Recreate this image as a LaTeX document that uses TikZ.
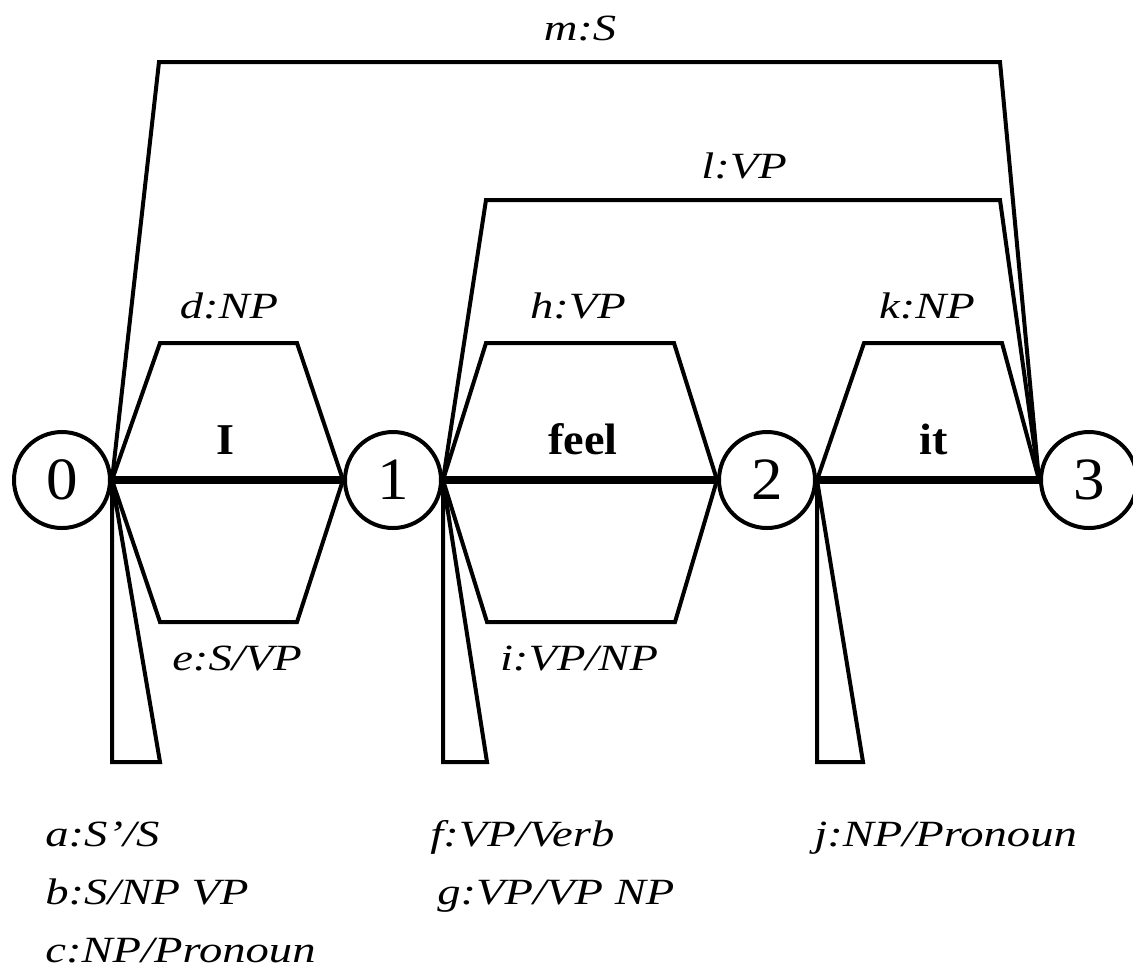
\documentclass[tikz,border=0pt]{standalone}
\usepackage{fontspec}
\setmainfont{Liberation Serif}[FakeStretch=1.26]
\newfontfamily\wordfont{Liberation Serif}[FakeStretch=1.05]
\begin{document}
\begin{tikzpicture}[x=0.5pt,y=-0.5pt,
  state/.style={circle,draw,line width=2pt,minimum size=48pt,inner sep=0pt,
    font=\wordfont\fontsize{30pt}{32pt}\selectfont},
  arc/.style={line width=2pt,line join=miter},
  wordedge/.style={line width=4pt},
  lab/.style={anchor=base,inner sep=0pt,font=\fontsize{18.5pt}{20pt}\selectfont\itshape},
  leftlab/.style={lab,anchor=base west},
  wordlab/.style={anchor=base,inner sep=0pt,font=\wordfont\bfseries\fontsize{22pt}{24pt}\selectfont}]
\useasboundingbox (0,0) rectangle (1133,971);

% chart vertices
\node[state] (n0) at (62,480) {0};
\node[state] (n1) at (393,480) {1};
\node[state] (n2) at (767,480) {2};
\node[state] (n3) at (1089,480) {3};
\coordinate (bot) at (0,762);

% word edges
\draw[wordedge] (n0.east) -- (n1.west);
\draw[wordedge] (n1.east) -- (n2.west);
\draw[wordedge] (n2.east) -- (n3.west);

% complete edges above the words
\draw[arc] (n0.east) -- (159,62) -- (1000,62) -- (n3.west);
\draw[arc] (n1.east) -- (486,200) -- (1000,200) -- (n3.west);
\draw[arc] (n0.east) -- (160,343) -- (297,343) -- (n1.west);
\draw[arc] (n1.east) -- (486,343) -- (674,343) -- (n2.west);
\draw[arc] (n2.east) -- (864,343) -- (1002,343) -- (n3.west);

% active edges below the words
\draw[arc] (n0.east) -- (160,622) -- (297,622) -- (n1.west);
\draw[arc] (n1.east) -- (487,622) -- (675,622) -- (n2.west);

% empty (self-loop) edges
\draw[arc] (n0.east) -- (n0.east |- bot) -- (160,762) -- cycle;
\draw[arc] (n1.east) -- (n1.east |- bot) -- (487,762) -- cycle;
\draw[arc] (n2.east) -- (n2.east |- bot) -- (863,762) -- cycle;

% words
\node[wordlab] (wI) at (225,454) {I};
\node[wordlab] (wfeel) at (583,454) {feel};
\node[wordlab] (wit) at (934,454) {it};

% edge labels
\node[lab] (lm) at (580,40) {m:S};
\node[lab] (ll) at (744,178) {l:VP};
\node[lab] (ld) at (229,318) {d:NP};
\node[lab] (lh) at (578,318) {h:VP};
\node[lab] (lk) at (927,318) {k:NP};
\node[lab] (le) at (237,670) {e:S/VP};
\node[lab] (li) at (579,670) {i:VP/NP};

% legend of empty edges
\node[leftlab] (la) at (45,846) {a:S’/S};
\node[leftlab] (lb) at (45,904) {b:S/NP VP};
\node[leftlab] (lc) at (45,962) {c:NP/Pronoun};
\node[leftlab] (lf) at (430,846) {f:VP/Verb};
\node[leftlab] (lg) at (437,904) {g:VP/VP NP};
\node[leftlab] (lj) at (814,846) {j:NP/Pronoun};
\end{tikzpicture}
\end{document}
